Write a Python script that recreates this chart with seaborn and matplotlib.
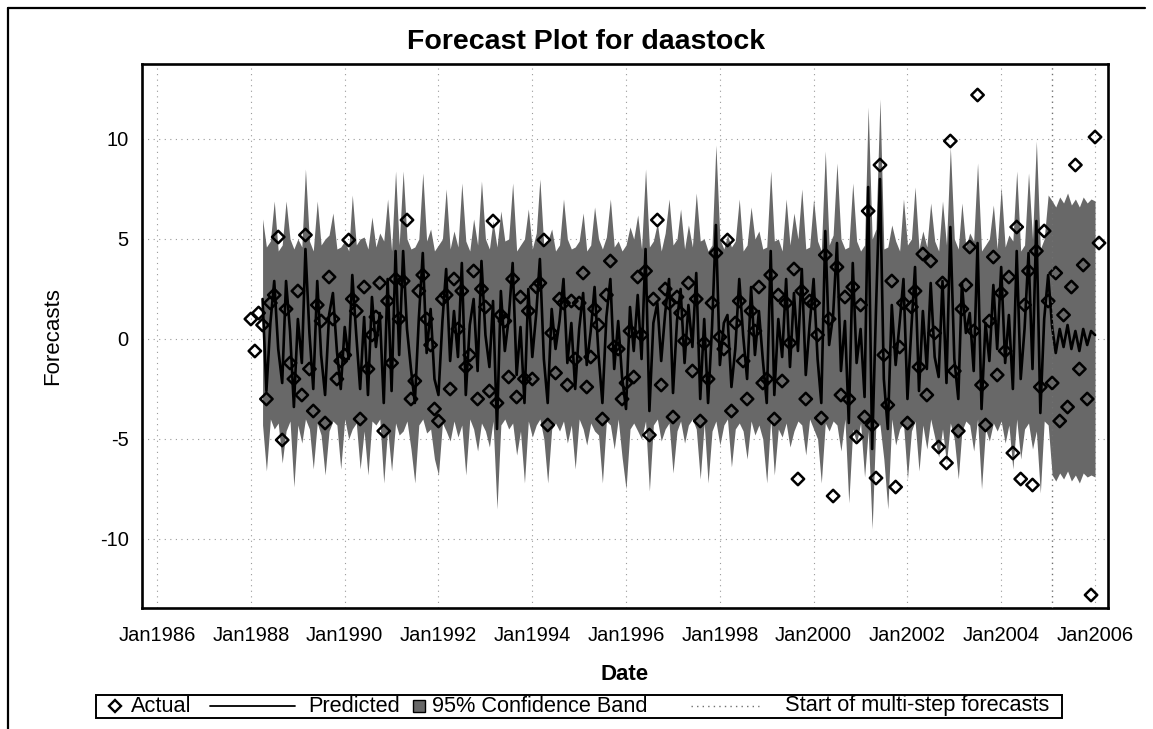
import numpy as np
import pandas as pd
import matplotlib
matplotlib.use("Agg")
import matplotlib.pyplot as plt
from matplotlib.lines import Line2D
from matplotlib.patches import Rectangle
import seaborn as sns

nan = np.nan

# ---------------- data (monthly, Jan1988 .. Feb2006) ----------------
first_month = "1988-01-01"
multi_step_start = "2005-02-01"

predicted = [
    nan, nan, nan, 2.0, -2.6, 0.8, 2.9, -0.5, -2.2, 2.9, 0.4, -3.4,    # 1988
    1.0, -1.2, 4.5, 0.3, -2.5, 2.9, -0.8, -2.8, 1.2, 2.3, -0.6, -2.5,  # 1989
    0.6, -1.0, 3.2, 0.2, -2.5, 1.1, -2.8, 2.1, -0.4, 1.3, -3.2, 3.0,   # 1990
    -2.6, 4.4, -0.8, 4.4, 0.5, -1.5, -3.2, 1.0, 4.3, -0.7, 1.5, -2.0,  # 1991
    -2.8, 0.9, 3.5, -1.1, 1.4, -0.9, 3.8, -2.8, 0.7, 2.0, -1.6, 3.9,   # 1992
    0.2, -1.4, 1.9, -4.5, 2.4, -0.6, 1.0, 3.8, -1.8, 0.6, -3.2, 2.5,   # 1993
    -0.9, 1.3, 4.0, -1.0, -3.2, 1.5, -0.5, 0.9, 3.0, -1.2, 0.8, -2.5,  # 1994
    0.5, 2.3, -1.3, 0.4, 2.6, -0.8, -3.2, 1.1, 3.0, -1.5, 0.9, -1.9,   # 1995
    -3.5, 1.6, -0.6, 2.2, -1.0, 4.5, -3.6, 0.8, 1.8, -1.1, 1.3, 3.0,   # 1996
    -2.7, 0.9, 2.5, -1.2, 1.7, -0.4, 3.3, -3.0, 1.0, -3.2, 0.6, 5.7,   # 1997
    -1.3, 0.8, 1.2, -2.4, -0.5, 3.0, 0.2, -2.0, 2.6, -0.8, 1.4, -1.0,  # 1998
    -3.2, 4.4, -2.8, 1.0, -0.9, 3.0, -1.4, 2.3, -0.6, 3.5, -1.8, 0.7,  # 1999
    3.0, -1.0, -3.2, 5.4, -0.3, 1.2, 4.8, -1.6, 0.9, -4.2, 3.8, -1.2,  # 2000
    0.5, -2.9, 7.6, -5.5, 1.5, 8.0, -2.0, -4.5, 1.7, -1.3, 0.8, 3.0,   # 2001
    -3.0, 0.6, 3.6, -2.6, 1.4, -1.5, 2.8, -0.9, -1.9, 2.9, -2.2, 5.6,  # 2002
    -1.0, -3.0, 2.8, 0.3, 1.3, -1.6, 4.8, -3.5, 0.8, -1.1, 2.7, -0.5,  # 2003
    3.6, -1.2, 1.2, -2.5, 4.4, -2.0, 0.5, 4.3, -1.5, 5.9, -3.7, 1.0,   # 2004
    3.2, 0.6, -0.7, 0.5, -0.4, 0.7, -0.5, 0.4, -0.6, 0.5, -0.3, 0.4,   # 2005
    0.2, nan,                                                          # 2006
]

upper_95 = [
    nan, nan, nan, 6.0, 4.6, 4.9, 6.9, 4.4, 4.7, 6.9, 5.0, 4.5,        # 1988
    5.0, 4.6, 8.5, 4.9, 4.4, 6.9, 4.7, 5.0, 5.2, 6.3, 4.5, 4.6,        # 1989
    4.9, 4.4, 7.2, 4.7, 5.0, 5.1, 4.5, 6.1, 4.6, 5.3, 4.9, 7.0,        # 1990
    4.4, 8.4, 4.7, 8.4, 5.0, 4.5, 4.6, 5.0, 8.3, 4.9, 5.5, 4.4,        # 1991
    4.7, 5.0, 7.5, 4.5, 5.4, 4.6, 7.8, 4.9, 4.4, 6.0, 4.7, 7.9,        # 1992
    5.0, 4.5, 5.9, 4.6, 6.4, 4.9, 5.0, 7.8, 4.4, 4.7, 5.0, 6.5,        # 1993
    4.5, 5.3, 8.0, 4.6, 4.9, 5.5, 4.4, 4.7, 7.0, 5.0, 4.5, 4.6,        # 1994
    4.9, 6.3, 4.4, 4.7, 6.6, 5.0, 4.5, 5.1, 7.0, 4.6, 4.9, 4.4,        # 1995
    4.7, 5.6, 5.0, 6.2, 4.5, 8.5, 4.6, 4.9, 5.8, 4.4, 5.3, 7.0,        # 1996
    4.7, 5.0, 6.5, 4.5, 5.7, 4.6, 7.3, 4.9, 5.0, 4.4, 4.7, 9.7,        # 1997
    5.0, 4.5, 5.2, 4.6, 4.9, 7.0, 4.4, 4.7, 6.6, 5.0, 5.4, 4.5,        # 1998
    4.6, 8.4, 4.9, 5.0, 4.4, 7.0, 4.7, 6.3, 5.0, 7.5, 4.5, 4.6,        # 1999
    7.0, 4.9, 4.4, 9.4, 4.7, 5.2, 8.8, 5.0, 4.5, 4.6, 7.8, 4.9,        # 2000
    4.4, 4.7, 11.6, 5.0, 5.5, 12.0, 4.5, 4.6, 5.7, 4.9, 4.4, 7.0,      # 2001
    4.7, 5.0, 7.6, 4.5, 5.4, 4.6, 6.8, 4.9, 4.4, 6.9, 4.7, 9.6,        # 2002
    5.0, 4.5, 6.8, 4.6, 5.3, 4.9, 8.8, 4.4, 4.7, 5.0, 6.7, 4.5,        # 2003
    7.6, 4.6, 5.2, 4.9, 8.4, 4.4, 4.7, 8.3, 5.0, 9.9, 4.5, 5.0,        # 2004
    7.2, 6.9, 6.6, 7.1, 6.8, 7.3, 6.7, 7.0, 6.6, 7.1, 6.8, 7.0,        # 2005
    6.9, nan,                                                          # 2006
]

lower_95 = [
    nan, nan, nan, -4.3, -6.6, -4.0, -4.5, -4.2, -6.2, -4.6, -4.1, -7.4,   # 1988
    -4.3, -5.2, -4.0, -4.5, -6.5, -4.2, -4.8, -6.8, -4.6, -4.1, -4.3, -6.5,  # 1989
    -4.0, -5.0, -4.5, -4.2, -6.5, -4.6, -6.8, -4.1, -4.3, -4.0, -7.2, -4.5,  # 1990
    -6.6, -4.2, -4.8, -4.6, -4.1, -5.5, -7.2, -4.3, -4.0, -4.7, -4.5, -6.0,  # 1991
    -6.8, -4.2, -4.6, -5.1, -4.1, -4.9, -4.3, -6.8, -4.0, -4.5, -5.6, -4.2,  # 1992
    -4.6, -5.4, -4.1, -8.5, -4.3, -4.0, -4.5, -4.2, -5.8, -4.6, -7.2, -4.1,  # 1993
    -4.9, -4.3, -4.0, -5.0, -7.2, -4.5, -4.2, -4.6, -4.1, -5.2, -4.3, -6.5,  # 1994
    -4.0, -4.5, -5.3, -4.2, -4.6, -4.8, -7.2, -4.1, -4.3, -5.5, -4.0, -5.9,  # 1995
    -7.5, -4.5, -4.2, -4.6, -5.0, -4.1, -7.6, -4.3, -4.0, -5.1, -4.5, -4.2,  # 1996
    -6.7, -4.6, -4.1, -5.2, -4.3, -4.0, -4.5, -7.0, -4.2, -7.2, -4.6, -4.1,  # 1997
    -5.3, -4.3, -4.0, -6.4, -4.5, -4.2, -4.6, -6.0, -4.1, -4.8, -4.3, -5.0,  # 1998
    -7.2, -4.0, -6.8, -4.5, -4.9, -4.2, -5.4, -4.6, -4.1, -4.3, -5.8, -4.0,  # 1999
    -4.5, -5.0, -7.2, -4.2, -4.6, -4.1, -4.3, -5.6, -4.0, -8.2, -4.5, -5.2,  # 2000
    -4.2, -6.9, -4.6, -9.5, -4.1, -4.3, -6.0, -8.5, -4.0, -5.3, -4.5, -4.2,  # 2001
    -7.0, -4.6, -4.1, -6.6, -4.3, -5.5, -4.0, -4.9, -5.9, -4.5, -6.2, -4.2,  # 2002
    -5.0, -7.0, -4.6, -4.1, -4.3, -5.6, -4.0, -7.5, -4.5, -5.1, -4.2, -4.6,  # 2003
    -4.1, -5.2, -4.3, -6.5, -4.0, -6.0, -4.5, -4.2, -5.5, -4.6, -7.7, -4.1,  # 2004
    -4.3, -6.8, -7.1, -6.7, -7.0, -6.6, -7.1, -6.8, -7.2, -6.7, -6.9, -6.8,  # 2005
    -6.9, nan,                                                               # 2006
]

actual = [
    1.0, -0.6, 1.3, 0.7, -3.0, 1.8, 2.2, 5.1, -5.05, 1.5, -1.2, -2.0,     # 1988
    2.4, -2.8, 5.2, -1.5, -3.6, 1.7, 0.9, -4.2, 3.1, 1.0, -2.0, -1.1,     # 1989
    -0.8, 4.95, 2.0, 1.4, -4.0, 2.6, -1.5, 0.2, 1.1, 2.8, -4.6, 1.9,      # 1990
    -1.2, 3.0, 1.0, 2.9, 5.95, -3.0, -2.1, 2.4, 3.2, 1.0, -0.3, -3.5,     # 1991
    -4.1, 2.0, 2.2, -2.5, 3.0, 0.5, 2.4, -1.4, -0.8, 3.4, -3.0, 2.5,      # 1992
    1.6, -2.6, 5.9, -3.2, 1.2, 0.9, -1.9, 3.0, -2.9, 2.1, -2.0, 1.4,      # 1993
    -2.0, 2.6, 2.8, 4.95, -4.3, 0.3, -1.7, 2.0, 1.8, -2.3, 1.9, -1.0,     # 1994
    1.8, 3.3, -2.4, -0.9, 1.5, 0.7, -4.0, 2.2, 3.9, -0.4, -0.5, -3.0,     # 1995
    -2.2, 0.4, -1.9, 3.1, 0.2, 3.4, -4.8, 2.0, 5.95, -2.3, 2.5, 1.8,      # 1996
    -3.9, 2.1, 1.3, -0.1, 2.8, -1.6, 2.0, -4.1, -0.2, -2.0, 1.8, 4.3,     # 1997
    0.1, -0.5, 4.95, -3.6, 0.8, 1.9, -1.1, -3.0, 1.4, 0.4, 2.6, -2.2,     # 1998
    -2.0, 3.2, -4.0, 2.2, -2.1, 1.8, -0.2, 3.5, -7.0, 2.4, -3.0, 1.9,     # 1999
    1.8, 0.2, -3.95, 4.2, 1.0, -7.85, 3.6, -2.8, 2.1, -3.0, 2.6, -4.9,    # 2000
    1.7, -3.9, 6.4, -4.3, -6.95, 8.7, -0.8, -3.3, 2.9, -7.4, -0.4, 1.8,   # 2001
    -4.2, 1.6, 2.4, -1.4, 4.25, -2.8, 3.9, 0.3, -5.4, 2.8, -6.2, 9.9,     # 2002
    -1.6, -4.6, 1.5, 2.7, 4.6, 0.4, 12.2, -2.3, -4.3, 0.9, 4.1, -1.8,     # 2003
    2.3, -0.6, 3.1, -5.7, 5.6, -7.0, 1.7, 3.4, -7.3, 4.4, -2.4, 5.4,      # 2004
    1.9, -2.2, 3.3, -4.1, 1.2, -3.4, 2.6, 8.7, -1.5, 3.7, -3.0, -12.8,    # 2005
    10.1, 4.8,                                                            # 2006
]

tick_dates = ["1986-01-01", "1988-01-01", "1990-01-01", "1992-01-01", "1994-01-01", "1996-01-01",
              "1998-01-01", "2000-01-01", "2002-01-01", "2004-01-01", "2006-01-01"]
tick_labels = ["Jan1986", "Jan1988", "Jan1990", "Jan1992", "Jan1994", "Jan1996",
               "Jan1998", "Jan2000", "Jan2002", "Jan2004", "Jan2006"]
y_ticks = [-10, -5, 0, 5, 10]

title_text = "Forecast Plot for daastock"
legend_labels = ["Actual", "Predicted", "95% Confidence Band", "Start of multi-step forecasts"]

# ---------------- figure ----------------
dates = pd.date_range(first_month, periods=len(actual), freq="MS")
df = pd.DataFrame({"Date": dates, "Actual": actual, "Predicted": predicted,
                   "Lower": lower_95, "Upper": upper_95})

sns.set_theme(style="white")
plt.rcParams["font.family"] = ["Liberation Sans", "DejaVu Sans"]
plt.rcParams["axes.unicode_minus"] = False

W, H = 1153, 729
fig = plt.figure(figsize=(W / 100, H / 100), dpi=100)
fig.patch.set_facecolor("white")

ax_l, ax_r, ax_t, ax_b = 142, 1108, 64, 608
ax = fig.add_axes([ax_l / W, 1 - ax_b / H, (ax_r - ax_l) / W, (ax_b - ax_t) / H])
ax.set_facecolor("white")

band_color = "#686868"
ax.fill_between(df["Date"], df["Lower"], df["Upper"], color=band_color, lw=0, zorder=1)
sns.scatterplot(data=df, x="Date", y="Actual", marker="D", s=40, facecolors="none",
                edgecolor="black", linewidth=1.8, ax=ax, zorder=2)
sns.lineplot(data=df, x="Date", y="Predicted", color="black", lw=1.9, ax=ax,
             estimator=None, zorder=3)
ax.axvline(pd.Timestamp(multi_step_start), color="#707070", lw=1.0,
           linestyle=(0, (1, 3)), zorder=4)

ax.set_xlim(pd.Timestamp("1985-09-05"), pd.Timestamp("2006-04-12"))
ax.set_ylim(-13.45, 13.75)
ax.set_xticks(pd.to_datetime(tick_dates))
ax.set_xticklabels(tick_labels)
ax.set_yticks(y_ticks)
ax.set_yticklabels([str(v) for v in y_ticks])

ax.grid(True, color="#9a9a9a", linestyle=(0, (1, 4)), lw=0.8)
ax.set_axisbelow(True)
for sp in ax.spines.values():
    sp.set_visible(True)
    sp.set_color("black")
    sp.set_linewidth(1.9)

ax.tick_params(axis="both", which="major", direction="out", length=6.5, width=1.5,
               color="black", labelsize=14.5, labelcolor="black")
ax.tick_params(axis="x", pad=6.5)
ax.tick_params(axis="y", pad=3)
ax.set_xlabel("Date", fontsize=16, fontweight="bold", color="black")
ax.set_ylabel("Forecasts", fontsize=16, color="black")
ax.xaxis.set_label_coords(0.5, -0.103)
ax.yaxis.set_label_coords(-0.082, 0.5)

fig.text(586 / W, 1 - 42 / H, title_text, ha="center", va="center",
         fontsize=20.5, fontweight="bold", color="black")

# outer page frame (top and left edges visible in the scan)
fig.add_artist(Line2D([8 / W, 1145 / W], [1 - 8 / H, 1 - 8 / H], transform=fig.transFigure,
                      color="black", lw=1.6))
fig.add_artist(Line2D([8 / W, 8 / W], [1 - 8 / H, 0], transform=fig.transFigure,
                      color="black", lw=1.6))

# ---------------- legend box ----------------
lg_y = 1 - 706 / H
fig.add_artist(Rectangle((96 / W, 1 - 718 / H), (1062 - 96) / W, 23 / H, transform=fig.transFigure,
                         fill=False, edgecolor="black", lw=1.4))
fig.add_artist(Line2D([115 / W], [lg_y], transform=fig.transFigure, marker="D", markersize=6,
                      markerfacecolor="none", markeredgecolor="black", markeredgewidth=1.7, lw=0))
fig.add_artist(Line2D([210 / W, 295 / W], [lg_y, lg_y], transform=fig.transFigure,
                      color="black", lw=1.3))
fig.add_artist(Rectangle((413 / W, 1 - 712 / H), 12 / W, 12 / H, transform=fig.transFigure,
                         facecolor=band_color, edgecolor="black", lw=1.0))
fig.add_artist(Line2D([691 / W, 759 / W], [lg_y, lg_y], transform=fig.transFigure,
                      color="#707070", lw=1.0, linestyle=(0, (1, 3))))
for xpx, lab in zip([131, 308, 432, 785], legend_labels):
    fig.text(xpx / W, lg_y, lab, ha="left", va="center", fontsize=15.7, color="black")

fig.savefig("out.png", dpi=100)
